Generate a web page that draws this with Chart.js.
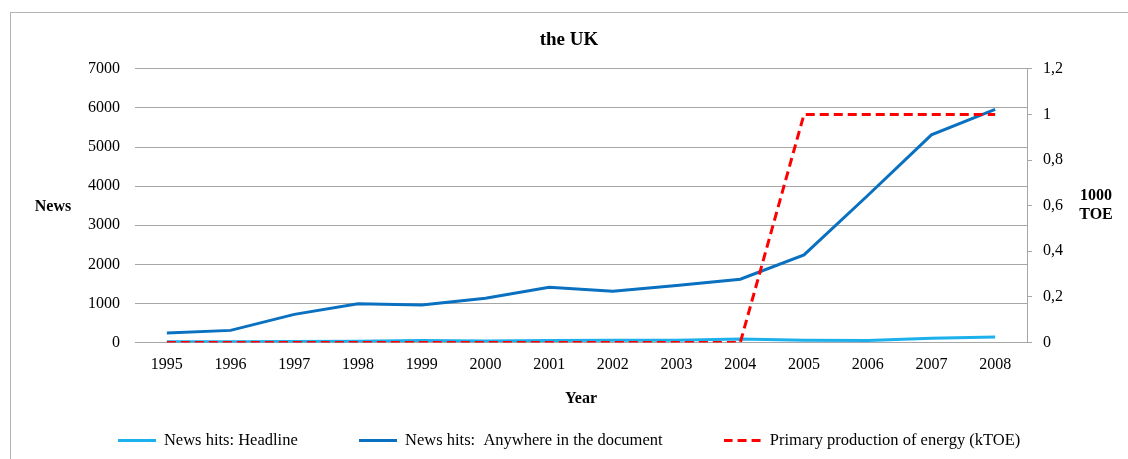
<!DOCTYPE html>
<html>
<head>
<meta charset="utf-8">
<script src="https://cdn.jsdelivr.net/npm/chart.js@4/dist/chart.umd.min.js"></script>
<style>
  body { margin: 0; background: #fff; }
  #wrap { position: relative; width: 1128px; height: 459px; overflow: hidden; }
  #frame { position: absolute; left: 10px; top: 12px; width: 1200px; height: 500px; border-left: 1px solid #b4b4b4; border-top: 1px solid #b4b4b4; }
  canvas { position: absolute; left: 0; top: 0; }
</style>
</head>
<body>
<div id="wrap">
  <div id="frame"></div>
  <canvas id="chart" width="1128" height="459"></canvas>
</div>
<script>
const years = ["1995", "1996", "1997", "1998", "1999", "2000", "2001", "2002", "2003", "2004", "2005", "2006", "2007", "2008"];
const headline = [20, 20, 25, 30, 50, 40, 50, 55, 60, 90, 55, 50, 110, 140];
const anywhere = [240, 310, 720, 990, 960, 1130, 1410, 1310, 1460, 1620, 2240, 3760, 5310, 5960];
const energy = [0, 0, 0, 0, 0, 0, 0, 0, 0, 0, 1, 1, 1, 1];
const seriesNames = ["News hits: Headline", "News hits:  Anywhere in the document", "Primary production of energy (kTOE)"];

const serif = "'Liberation Serif', 'Times New Roman', serif";
const grid = "#a6a6a6";
const colors = ["#1cb0ec", "#0a70c0", "#ff0000"];
const redDash = [9, 5];

// small line swatch used as the legend marker
function swatch(color, dash) {
  const c = document.createElement("canvas");
  c.width = 38;
  c.height = 3;
  const g = c.getContext("2d");
  g.strokeStyle = color;
  g.lineWidth = 3;
  g.setLineDash(dash);
  g.beginPath();
  g.moveTo(0, 1.5);
  g.lineTo(38, 1.5);
  g.stroke();
  return c;
}

// axis titles are horizontal in the original, so draw them by hand
const axisTitles = {
  id: "axisTitles",
  afterDraw(chart) {
    const ctx = chart.ctx;
    ctx.save();
    ctx.fillStyle = "#000";
    ctx.font = "bold 16px " + serif;
    ctx.textAlign = "center";
    ctx.textBaseline = "middle";
    ctx.fillText("News", 53, 207);
    ctx.fillText("1000", 1096, 196);
    ctx.fillText("TOE", 1096, 215);
    ctx.fillText("Year", (chart.chartArea.left + chart.chartArea.right) / 2, 399);
    ctx.restore();
  }
};

new Chart(document.getElementById("chart").getContext("2d"), {
  type: "line",
  data: {
    labels: years,
    datasets: [
      { label: seriesNames[0], data: headline, yAxisID: "y", borderColor: colors[0], backgroundColor: colors[0], borderWidth: 3, pointStyle: swatch(colors[0], []), order: 2 },
      { label: seriesNames[1], data: anywhere, yAxisID: "y", borderColor: colors[1], backgroundColor: colors[1], borderWidth: 3, pointStyle: swatch(colors[1], []), order: 1 },
      { label: seriesNames[2], data: energy, yAxisID: "y2", borderColor: colors[2], backgroundColor: colors[2], borderWidth: 3, borderDash: redDash, pointStyle: swatch(colors[2], redDash), order: 0 }
    ]
  },
  options: {
    responsive: false,
    animation: false,
    devicePixelRatio: 1,
    elements: { point: { radius: 0 }, line: { tension: 0 } },
    layout: { padding: { top: 12, left: 10, right: 0, bottom: 0 } },
    plugins: {
      title: {
        display: true,
        text: "the UK",
        color: "#000",
        font: { family: serif, size: 19, weight: "bold" },
        padding: { top: 17, bottom: 17 }
      },
      legend: {
        position: "bottom",
        labels: {
          color: "#000",
          font: { family: serif, size: 16.5 },
          usePointStyle: true,
          pointStyleWidth: 38,
          padding: 61,
          sort: (a, b) => a.datasetIndex - b.datasetIndex
        }
      },
      tooltip: { enabled: false }
    },
    scales: {
      x: {
        offset: true,
        grid: { display: false, drawTicks: false },
        border: { display: false },
        ticks: { color: "#000", font: { family: serif, size: 16, lineHeight: 1 }, padding: 14, maxRotation: 0, autoSkip: false },
        afterFit(s) { s.height = 29; }
      },
      y: {
        position: "left",
        min: 0,
        max: 7000,
        ticks: { stepSize: 1000, color: "#000", font: { family: serif, size: 16 }, padding: 15, callback: v => String(v) },
        grid: { color: grid, drawTicks: false },
        border: { display: false },
        afterFit(s) { s.width = 125; }
      },
      y2: {
        position: "right",
        min: 0,
        max: 1.2,
        ticks: {
          stepSize: 0.2,
          color: "#000",
          font: { family: serif, size: 16 },
          padding: 11,
          callback: v => String(Math.round(v * 10) / 10).replace(".", ",")
        },
        grid: { drawOnChartArea: false, color: grid, tickLength: 5 },
        border: { color: grid },
        afterFit(s) { s.width = 101; }
      }
    }
  },
  plugins: [axisTitles]
});
</script>
</body>
</html>
